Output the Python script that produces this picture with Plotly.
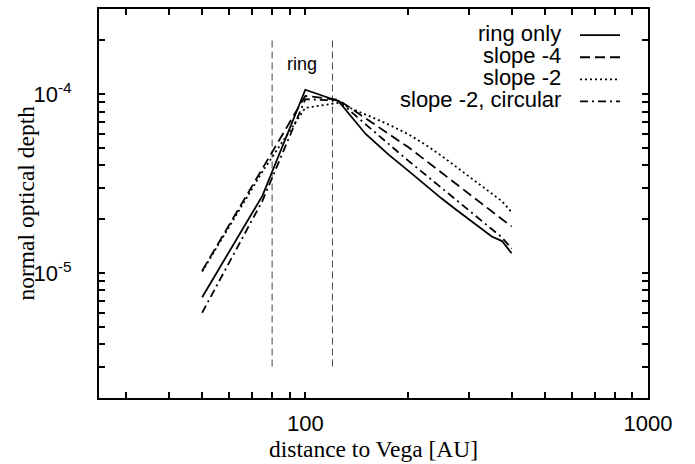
import plotly.graph_objects as go
import numpy as np

# ---------------- data ----------------
distance = [50, 75, 100, 125, 150, 175, 200, 225, 250, 275, 300, 325, 350, 375, 400]
ring_only = [7.33e-6, 2.71e-5, 1.06e-4, 9.15e-5, 6.0e-5, 4.6e-5, 3.73e-5, 3.09e-5,
             2.61e-5, 2.27e-5, 2.0e-5, 1.77e-5, 1.60e-5, 1.51e-5, 1.29e-5]
slope_m4 = [1.03e-5, 3.85e-5, 9.8e-5, 9.3e-5, 7.35e-5, 6.05e-5, 5.05e-5, 4.25e-5,
            3.63e-5, 3.15e-5, 2.77e-5, 2.46e-5, 2.21e-5, 2.0e-5, 1.82e-5]
slope_m2 = [1.02e-5, 3.7e-5, 8.4e-5, 8.95e-5, 7.7e-5, 6.78e-5, 5.97e-5, 5.2e-5,
            4.52e-5, 3.94e-5, 3.48e-5, 3.1e-5, 2.78e-5, 2.52e-5, 2.19e-5]
slope_m2_circ = [6.0e-6, 2.54e-5, 9.4e-5, 9.2e-5, 6.79e-5, 5.26e-5, 4.24e-5, 3.53e-5,
                 2.99e-5, 2.57e-5, 2.24e-5, 1.98e-5, 1.77e-5, 1.58e-5, 1.37e-5]

series_names = ["ring only", "slope -4", "slope -2", "slope -2, circular"]
series_values = [ring_only, slope_m4, slope_m2, slope_m2_circ]
series_dash = ["solid", "10px,5px", "2px,3px", "8px,4px,2px,4px"]

ring_edges = [80, 120]
ring_span = [3e-6, 2e-4]
ring_label = "ring"
ring_label_pos = (98, 1.47e-4)

x_range = [25, 1000]
y_range = [2e-6, 3e-4]
x_major = [100, 1000]
x_major_text = ["100", "1000"]
x_minor = [30, 40, 50, 60, 70, 80, 90, 200, 300, 400, 500, 600, 700, 800, 900]
y_major = [1e-5, 1e-4]
y_major_text = ["10<sup>-5</sup>", "10<sup>-4</sup>"]
y_minor = [3e-6, 4e-6, 5e-6, 6e-6, 7e-6, 8e-6, 9e-6,
           2e-5, 3e-5, 4e-5, 5e-5, 6e-5, 7e-5, 8e-5, 9e-5, 2e-4]

x_title = "distance to Vega [AU]"
y_title = "normal optical depth"

# ---------------- figure ----------------
W, H = 695, 464
L, R, T, B = 99, 47, 7, 66
pw, ph = W - L - R, H - T - B
MAJOR_LEN, MINOR_LEN = 12, 6

SANS = "Liberation Sans, Arial, Helvetica, sans-serif"
SERIF = "Liberation Serif, Times New Roman, serif"

fig = go.Figure()

for xe in ring_edges:
    fig.add_trace(go.Scatter(x=[xe, xe], y=ring_span, mode="lines",
                             line=dict(color="#444444", width=1, dash="7px,4px"),
                             showlegend=False, hoverinfo="skip"))

for name, vals, dash in zip(series_names, series_values, series_dash):
    fig.add_trace(go.Scatter(x=distance, y=vals, mode="lines", name=name,
                             line=dict(color="black", width=1.8, dash=dash),
                             showlegend=False))

def px_x(p):
    return (p - L) / pw

def px_y(p):
    return (H - B - p) / ph

annotations = []
shapes = []

# gnuplot-style key: right-aligned text with the line sample on its right
row_y = [33.3, 55.5, 77.7, 99.9]
for name, dash, ry in zip(series_names, series_dash, row_y):
    annotations.append(dict(x=px_x(563), y=px_y(ry), xref="paper", yref="paper",
                            text=name, showarrow=False, xanchor="right",
                            yanchor="middle", yshift=2,
                            font=dict(family=SANS, size=22, color="black")))
    shapes.append(dict(type="line", xref="paper", yref="paper",
                       x0=px_x(580), x1=px_x(620), y0=px_y(ry), y1=px_y(ry),
                       line=dict(color="black", width=1.8, dash=dash)))

# inward tick marks on all four sides, placed through the axes' own scales
tick_line = dict(color="rgb(0,0,0)", width=2)
for vals, ln in ((x_major, MAJOR_LEN), (x_minor, MINOR_LEN)):
    for v in vals:
        for anchor, sign in ((0, 1), (1, -1)):
            shapes.append(dict(type="line", xref="x", yref="paper",
                               x0=np.log10(v), x1=np.log10(v),
                               ysizemode="pixel", yanchor=anchor, y0=0, y1=sign * ln,
                               line=tick_line, layer="above"))
for vals, ln in ((y_major, MAJOR_LEN), (y_minor, MINOR_LEN)):
    for v in vals:
        for anchor, sign in ((0, 1), (1, -1)):
            shapes.append(dict(type="line", xref="paper", yref="y",
                               y0=np.log10(v), y1=np.log10(v),
                               xsizemode="pixel", xanchor=anchor, x0=0, x1=sign * ln,
                               line=tick_line, layer="above"))

annotations.append(dict(x=np.log10(ring_label_pos[0]), y=np.log10(ring_label_pos[1]),
                        xref="x", yref="y", text=ring_label, showarrow=False,
                        font=dict(family=SANS, size=18, color="black")))
annotations.append(dict(x=0.5, y=0, xref="paper", yref="paper", text=x_title,
                        showarrow=False, yanchor="middle", yshift=-51,
                        font=dict(family=SERIF, size=23.5, color="black")))
annotations.append(dict(x=0, y=0.5, xref="paper", yref="paper", text=y_title,
                        showarrow=False, xanchor="center", xshift=-74, textangle=-90,
                        font=dict(family=SERIF, size=23.5, color="black")))

x_all = sorted(x_major + x_minor)
y_all = sorted(y_major + y_minor)
x_all_text = [x_major_text[x_major.index(v)] if v in x_major else "" for v in x_all]
y_all_text = [y_major_text[y_major.index(v)] if v in y_major else "" for v in y_all]

common = dict(type="log", showgrid=False, zeroline=False, showline=True,
              linecolor="black", linewidth=2, mirror="allticks",
              ticks="inside", ticklen=MINOR_LEN, tickwidth=2,
              tickcolor="rgb(0,0,0)", tickmode="array",
              tickfont=dict(family=SANS, size=22, color="black"))

fig.update_layout(
    width=W, height=H,
    margin=dict(l=L, r=R, t=T, b=B),
    plot_bgcolor="white",
    xaxis=dict(range=[np.log10(x_range[0]), np.log10(x_range[1])],
               tickvals=x_all, ticktext=x_all_text, ticklabelstandoff=5, **common),
    yaxis=dict(range=[np.log10(y_range[0]), np.log10(y_range[1])],
               tickvals=y_all, ticktext=y_all_text, ticklabelstandoff=21, **common),
    annotations=annotations, shapes=shapes, showlegend=False,
)

fig.write_html("out.html")
